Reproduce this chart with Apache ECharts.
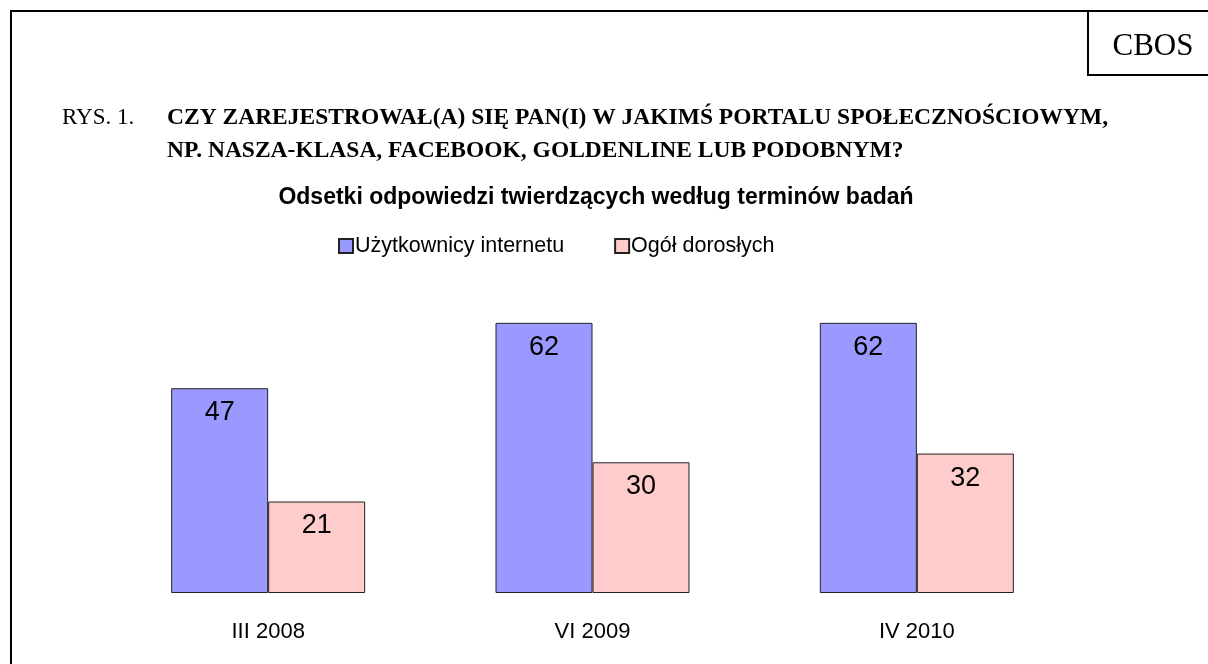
<!DOCTYPE html>
<html>
<head>
<meta charset="utf-8">
<style>
    html, body { margin: 0; padding: 0; background: #fff; }
    #chart { width: 1208px; height: 664px; }
</style>
<script src="https://cdn.jsdelivr.net/npm/echarts@6/dist/echarts.min.js"></script>
</head>
<body>
<div id="chart"></div>
<script>
(function () {
    'use strict';

    var categories = ['III 2008', 'VI 2009', 'IV 2010'];
    var internetUsers = [47, 62, 62];
    var allAdults = [21, 30, 32];
    var seriesNames = ['Użytkownicy internetu', 'Ogół dorosłych'];

    var sans = 'Arial, "Liberation Sans", sans-serif';
    var serif = '"Times New Roman", "Liberation Serif", serif';

    var chart = echarts.init(document.getElementById('chart'));

    var barLabel = {
        show: true,
        position: 'insideTop',
        distance: 11,
        color: '#000',
        fontFamily: sans,
        fontSize: 27
    };

    chart.setOption({
        animation: false,
        title: [{
            text: 'CBOS',
            left: 1148,
            top: 26,
            textAlign: 'center',
            textStyle: { fontFamily: serif, fontWeight: 'normal', fontSize: 31, color: '#000' }
        }, {
            text: 'RYS. 1.',
            left: 57,
            top: 96,
            textStyle: { fontFamily: serif, fontWeight: 'normal', fontSize: 23, lineHeight: 33, color: '#000' }
        }, {
            text: 'CZY ZAREJESTROWAŁ(A) SIĘ PAN(I) W JAKIMŚ PORTALU SPOŁECZNOŚCIOWYM,\nNP. NASZA-KLASA, FACEBOOK, GOLDENLINE LUB PODOBNYM?',
            left: 162,
            top: 96,
            textStyle: { fontFamily: serif, fontWeight: 'bold', fontSize: 23.5, lineHeight: 33, color: '#000' }
        }, {
            text: 'Odsetki odpowiedzi twierdzących według terminów badań',
            left: 591,
            top: 181,
            textAlign: 'center',
            textStyle: { fontFamily: sans, fontWeight: 'bold', fontSize: 23, lineHeight: 24, color: '#000' }
        }],
        legend: {
            top: 230,
            left: 333,
            itemWidth: 14,
            itemHeight: 14,
            itemGap: 50,
            icon: 'rect',
            textStyle: { fontFamily: sans, fontSize: 21.5, color: '#000', padding: [0, 0, 0, -3] },
            data: seriesNames
        },
        grid: {
            left: 106,
            width: 973,
            top: 288,
            height: 305
        },
        xAxis: {
            type: 'category',
            data: categories,
            axisLine: { show: false },
            axisTick: { show: false },
            axisLabel: { color: '#000', fontFamily: sans, fontSize: 22, margin: 28 }
        },
        yAxis: {
            type: 'value',
            min: 0,
            max: 70,
            show: false,
            splitLine: { show: false }
        },
        series: [{
            name: seriesNames[0],
            type: 'bar',
            data: internetUsers,
            barWidth: 97,
            barGap: '0%',
            itemStyle: { color: '#9999ff', borderColor: '#222', borderWidth: 1 },
            label: barLabel
        }, {
            name: seriesNames[1],
            type: 'bar',
            data: allAdults,
            barWidth: 97,
            itemStyle: { color: '#ffcccc', borderColor: '#222', borderWidth: 1 },
            label: barLabel
        }],
        graphic: [{
            type: 'polyline',
            shape: { points: [[11, 664], [11, 11], [1208, 11]] },
            style: { stroke: '#000', lineWidth: 2, fill: null }
        }, {
            type: 'polyline',
            shape: { points: [[1088, 11], [1088, 75], [1208, 75]] },
            style: { stroke: '#000', lineWidth: 2, fill: null }
        }]
    });
}());
</script>
</body>
</html>
